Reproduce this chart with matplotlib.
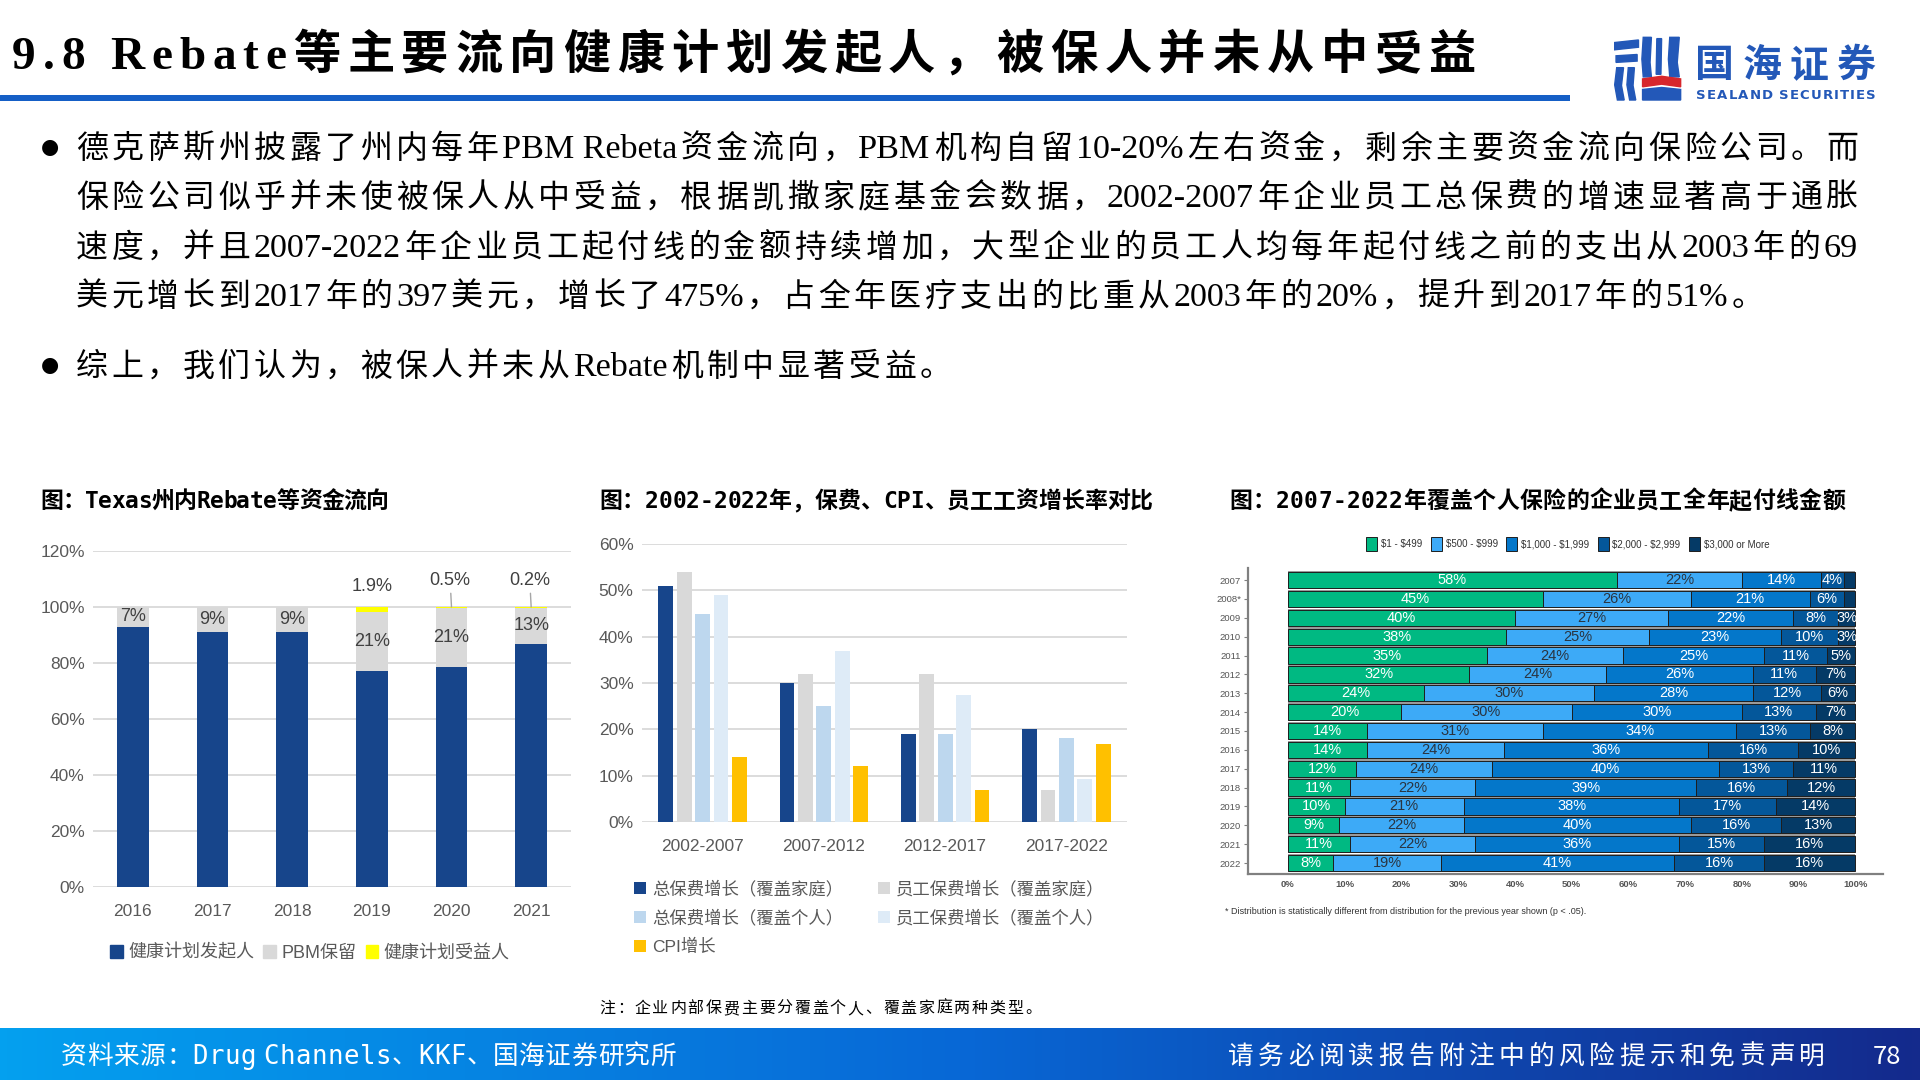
import re
import matplotlib
matplotlib.use('Agg')
import numpy as np
import matplotlib.pyplot as plt
from matplotlib.patches import Patch, Rectangle, Polygon
from matplotlib.colors import LinearSegmentedColormap

CJK = 'Noto Sans CJK SC'
SERIF_CJK = ['Liberation Serif', CJK]
SANS_CJK = ['Liberation Sans', CJK]
MONO_CJK = ['DejaVu Sans Mono', CJK]
NARROW = ['Liberation Sans Narrow', 'Liberation Sans']

# ---- chart 1: Texas rebate flow
years1 = ['2016', '2017', '2018', '2019', '2020', '2021']
sponsor = [93, 91, 91, 77.1, 78.5, 86.8]
pbm_keep = [7, 9, 9, 21, 21, 13]
beneficiary = [0, 0, 0, 1.9, 0.5, 0.2]
names1 = ['健康计划发起人', 'PBM保留', '健康计划受益人']

# ---- chart 2: premium / CPI growth
periods = ['2002-2007', '2007-2012', '2012-2017', '2017-2022']
prem_family = [51, 30, 19, 20]
worker_family = [54, 32, 32, 7]
prem_single = [45, 25, 19, 18.2]
worker_single = [49, 37, 27.4, 9.3]
cpi = [14, 12, 7, 16.9]
names2 = ['总保费增长（覆盖家庭）', '员工保费增长（覆盖家庭）', '总保费增长（覆盖个人）',
          '员工保费增长（覆盖个人）', 'CPI增长']

# ---- chart 3: deductible distribution
years3 = ['2007', '2008*', '2009', '2010', '2011', '2012', '2013', '2014', '2015',
          '2016', '2017', '2018', '2019', '2020', '2021', '2022']
d_1_499 = [58, 45, 40, 38, 35, 32, 24, 20, 14, 14, 12, 11, 10, 9, 11, 8]
d_500_999 = [22, 26, 27, 25, 24, 24, 30, 30, 31, 24, 24, 22, 21, 22, 22, 19]
d_1000_1999 = [14, 21, 22, 23, 25, 26, 28, 30, 34, 36, 40, 39, 38, 40, 36, 41]
d_2000_2999 = [4, 6, 8, 10, 11, 11, 12, 13, 13, 16, 13, 16, 17, 16, 15, 16]
d_3000_up = [2, 2, 3, 3, 5, 7, 6, 7, 8, 10, 11, 12, 14, 13, 16, 16]
names3 = [r'\$1 - \$499', r'\$500 - \$999', r'\$1,000 - \$1,999', r'\$2,000 - \$2,999', r'\$3,000 or More']

title = '9.8 Rebate等主要流向健康计划发起人，被保人并未从中受益'
para1 = ['德克萨斯州披露了州内每年PBM Rebeta资金流向，PBM机构自留10-20%左右资金，剩余主要资金流向保险公司。而',
         '保险公司似乎并未使被保人从中受益，根据凯撒家庭基金会数据，2002-2007年企业员工总保费的增速显著高于通胀',
         '速度，并且2007-2022年企业员工起付线的金额持续增加，大型企业的员工人均每年起付线之前的支出从2003年的69',
         '美元增长到2017年的397美元，增长了475%，占全年医疗支出的比重从2003年的20%，提升到2017年的51%。']
para2 = '综上，我们认为，被保人并未从Rebate机制中显著受益。'

W, H = 1920, 1080
fig = plt.figure(figsize=(19.2, 10.8), dpi=100)
fig.patch.set_facecolor('white')
renderer = fig.canvas.get_renderer()

PUNCT = '，。、：（）'


def px_axes(x0, y0, x1, y1, **kw):
    return fig.add_axes([x0 / W, 1 - y1 / H, (x1 - x0) / W, (y1 - y0) / H], **kw)


def draw_line(x, y, s, fs, family, target=None, gap=0.0, color='black', weight='normal',
              words=False, ascii_scale=1.0):
    """place text piece by piece, optionally justified so it ends at target (px)"""
    em = fs * 100 / 72
    probe = fig.text(0, 0, '中', fontsize=fs, family=family, weight=weight)
    cjk_w = probe.get_window_extent(renderer).width
    probe.remove()
    toks = re.findall(r'[\x21-\x7e](?:[\x20-\x7e]*[\x21-\x7e])?|.', s) if words else list(s)
    ws, offs, sizes = [], [], []
    for tk in toks:
        size = fs * ascii_scale if tk.isascii() else fs
        sizes.append(size)
        if tk == ' ':
            ws.append(em * 0.25); offs.append(0); continue
        t = fig.text(0, 0, tk, fontsize=size, family=family, weight=weight)
        w = t.get_window_extent(renderer).width
        t.remove()
        if tk in PUNCT:
            offs.append(cjk_w - w if tk == '（' else 0)
            ws.append(cjk_w)
        else:
            offs.append(0); ws.append(w)
    if target is not None and len(toks) > 1:
        gap = (target - x - sum(ws)) / (len(toks) - 1)
    cx = x
    for tk, w, o, size in zip(toks, ws, offs, sizes):
        if tk != ' ':
            fig.text((cx + o) / W, 1 - y / H, tk, fontsize=size, family=family,
                     weight=weight, color=color, ha='left', va='baseline')
        cx += w + gap
    return gap


# ---------------- header
draw_line(12, 69, title, 34, SERIF_CJK, target=1476, weight='bold')
hdr = px_axes(0, 95, 1570, 101)
hdr.add_patch(Rectangle((0, 0), 1, 1, color='#155FC6'))
hdr.set_xlim(0, 1); hdr.set_ylim(0, 1); hdr.axis('off')

# logo
lg = px_axes(1614, 36, 1682, 102)
lg.set_xlim(0, 10); lg.set_ylim(0, 10); lg.axis('off')
blue = '#2358B8'
lg.add_patch(Polygon([(0, 9.0), (3.6, 9.4), (3.6, 8.3), (0, 7.9)], color=blue))
lg.add_patch(Polygon([(0.3, 7.0), (3.4, 7.2), (3.4, 6.2), (0.3, 6.0)], color=blue))
lg.add_patch(Polygon([(0.4, 5.2), (1.4, 5.2), (1.1, 2.5), (1.5, 0.3), (0.5, 0.3), (0.1, 2.6)], color=blue))
lg.add_patch(Polygon([(2.1, 5.2), (3.0, 5.2), (2.8, 2.5), (3.2, 0.3), (2.3, 0.3), (1.9, 2.6)], color=blue))
lg.add_patch(Polygon([(4.3, 9.8), (5.5, 9.8), (5.3, 6.0), (5.5, 3.8), (4.3, 3.8), (4.1, 6.5)], color=blue))
lg.add_patch(Polygon([(6.3, 9.6), (7.0, 9.6), (6.9, 4.2), (6.2, 4.2)], color=blue))
lg.add_patch(Polygon([(8.2, 9.8), (9.6, 9.8), (9.3, 6.0), (9.6, 3.8), (8.2, 3.8), (8.0, 6.5)], color=blue))
lg.add_patch(Polygon([(4.2, 3.5), (7.0, 3.9), (9.8, 3.5), (9.8, 2.3), (7.0, 2.7), (4.2, 2.3)], color='#D7262B'))
lg.add_patch(Polygon([(4.2, 1.9), (7.0, 2.2), (9.8, 1.9), (9.8, 0.3), (4.2, 0.3)], color=blue))
draw_line(1695, 77, '国海证券', 28, [CJK], target=1876, color=blue, weight='bold')
draw_line(1696, 99, 'SEALAND SECURITIES', 9.5, ['DejaVu Sans'], target=1876, color=blue, weight='bold')

# ---------------- bullet text
bullet_y = [158, 207, 257, 306]
gaps = []
for i, line in enumerate(para1):
    if i < 3:
        gaps.append(draw_line(76, bullet_y[i], line, 23, SERIF_CJK, target=1858,
                              words=True, ascii_scale=1.07))
    else:
        draw_line(76, bullet_y[i], line, 23, SERIF_CJK, gap=np.mean(gaps),
                  words=True, ascii_scale=1.07)
draw_line(76, 376, para2, 23, SERIF_CJK, gap=np.mean(gaps), words=True, ascii_scale=1.07)
for by in (bullet_y[0], 376):
    fig.text(41 / W, 1 - (by - 11) / H, '●', fontsize=15, family='DejaVu Sans',
             ha='left', va='center')

# ---------------- chart titles
draw_line(40, 508, '图：Texas州内Rebate等资金流向', 16.5, MONO_CJK, target=389, weight='bold')
draw_line(599, 508, '图：2002-2022年，保费、CPI、员工工资增长率对比', 16.5, MONO_CJK, target=1153, weight='bold')
draw_line(1229, 508, '图：2007-2022年覆盖个人保险的企业员工全年起付线金额', 16.5, MONO_CJK, target=1845, weight='bold')

GRID = '#D9D9D9'
TICK = '#595959'


def style_excel(ax, ymax, step):
    ax.set_ylim(0, ymax)
    ax.set_yticks(np.arange(0, ymax + 1, step))
    ax.set_yticklabels([f'{v:.0f}%' for v in np.arange(0, ymax + 1, step)])
    ax.yaxis.grid(True, color=GRID, lw=1.3)
    ax.set_axisbelow(True)
    for sp in ax.spines.values():
        sp.set_visible(False)
    ax.tick_params(length=0, labelsize=12.5, colors=TICK)
    ax.tick_params(axis='y', pad=6)
    ax.tick_params(axis='x', pad=12)
    for lab in ax.get_xticklabels() + ax.get_yticklabels():
        lab.set_family(SANS_CJK)


# ---------------- chart 1
ax1 = px_axes(93, 551, 571, 887)
x1 = np.arange(len(years1))
c_navy, c_gray, c_yel = '#17458B', '#D9D9D9', '#FFFF00'
ax1.bar(x1, sponsor, 0.4, color=c_navy)
ax1.bar(x1, pbm_keep, 0.4, bottom=sponsor, color=c_gray)
bot = np.array(sponsor) + np.array(pbm_keep)
ax1.bar(x1, beneficiary, 0.4, bottom=bot, color=c_yel)
ax1.set_xlim(-0.5, len(years1) - 0.5)
ax1.set_xticks(x1, years1)
style_excel(ax1, 120, 20)
for i, v in enumerate(pbm_keep):
    ax1.text(i, sponsor[i] + v / 2, f'{v:.0f}%', ha='center', va='center',
             fontsize=13, color='#404040', family=SANS_CJK)
for i, v in enumerate(beneficiary):
    if v <= 0:
        continue
    top = bot[i] + v
    if v >= 1:
        ax1.annotate(f'{v:.1f}%', (i, top), xytext=(0, 15), textcoords='offset points',
                     ha='center', va='center', fontsize=13, color='#404040', family=SANS_CJK)
    else:
        ax1.annotate(f'{v:.1f}%', (i, top), xytext=(-1, 19), textcoords='offset points',
                     ha='center', va='center', fontsize=13, color='#404040', family=SANS_CJK,
                     arrowprops=dict(arrowstyle='-', color='#A6A6A6', lw=1, shrinkA=1, shrinkB=0))
h1 = [Patch(color=c) for c in (c_navy, c_gray, c_yel)]
ax1.legend(h1, names1, loc='center', bbox_to_anchor=(310 / W, 1 - 953 / H),
           bbox_transform=fig.transFigure, ncol=3, frameon=False,
           prop=dict(family=SANS_CJK, size=13), labelcolor=TICK,
           handlelength=0.7, handleheight=0.7, handletextpad=0.3, columnspacing=0.5)

# ---------------- chart 2
ax2 = px_axes(642, 544, 1127, 822)
x2 = np.arange(len(periods))
cols2 = ['#17458B', '#D9D9D9', '#BDD7EE', '#DEEBF7', '#FFC000']
series2 = [prem_family, worker_family, prem_single, worker_single, cpi]
for k, (vals, c) in enumerate(zip(series2, cols2)):
    ax2.bar(x2 + (k - 2) * 0.152, vals, 0.122, color=c, label=names2[k])
ax2.set_xlim(-0.5, len(periods) - 0.5)
ax2.set_xticks(x2, periods)
style_excel(ax2, 60, 10)
hh, ll = ax2.get_legend_handles_labels()
order = [0, 2, 4, 1, 3]
ax2.legend([hh[i] for i in order], [ll[i] for i in order], loc='upper left',
           bbox_to_anchor=(634 / W, 1 - 880 / H), bbox_transform=fig.transFigure,
           ncol=2, frameon=False, prop=dict(family=SANS_CJK, size=12.5), labelcolor=TICK,
           handlelength=0.7, handleheight=0.7, handletextpad=0.35, columnspacing=2.0,
           labelspacing=0.72, borderpad=0, borderaxespad=0)
draw_line(599, 1013, '注：企业内部保费主要分覆盖个人、覆盖家庭两种类型。', 11.5, [CJK], target=1041)

# ---------------- chart 3
ax3 = px_axes(1248, 568, 1883, 874)
cols3 = ['#00B982', '#3DAAF7', '#0477CA', '#04579A', '#053A66']
txt3 = ['white', '#2A3440', 'white', 'white', 'white']
series3 = np.array([d_1_499, d_500_999, d_1000_1999, d_2000_2999, d_3000_up], dtype=float)
share3 = series3 / series3.sum(axis=0) * 100
y3 = np.arange(len(years3))
ax3.barh(y3, np.full(len(years3), 100.0), 0.98, color='#9A9A9A', zorder=1)
left = np.zeros(len(years3))
for k in range(5):
    ax3.barh(y3, share3[k], 0.86, left=left, color=cols3[k], edgecolor='#1E1E1E', lw=0.7, zorder=2)
    for j in range(len(years3)):
        if series3[k, j] >= 3:
            ax3.text(left[j] + share3[k, j] / 2, y3[j], f'{series3[k, j]:.0f}%', ha='center',
                     va='center', fontsize=10.5, color=txt3[k], family=NARROW, zorder=3)
    left += share3[k]
ax3.set_xlim(-7.05, 104.9)
ax3.set_ylim(15.58, -0.64)
ax3.set_yticks(y3, years3)
ax3.set_xticks(np.arange(0, 101, 10), [f'{v}%' for v in range(0, 101, 10)])
for sp in ('top', 'right'):
    ax3.spines[sp].set_visible(False)
for sp in ('left', 'bottom'):
    ax3.spines[sp].set_color('#808080')
    ax3.spines[sp].set_linewidth(1.6)
ax3.tick_params(axis='y', length=3, color='#808080', labelsize=6.8, labelcolor='#555555', pad=2)
ax3.tick_params(axis='x', length=0, labelsize=6.8, labelcolor='#555555', pad=4)
for lab in ax3.get_xticklabels() + ax3.get_yticklabels():
    lab.set_family(NARROW)
for lab in ax3.get_xticklabels():
    lab.set_weight('bold')
h3 = [Patch(facecolor=c, edgecolor='#1E1E1E', lw=0.7) for c in cols3]
ax3.legend(h3, names3, loc='center', bbox_to_anchor=(1568 / W, 1 - 544 / H),
           bbox_transform=fig.transFigure, ncol=5, frameon=False,
           prop=dict(family=NARROW, size=7), labelcolor='#333333',
           handlelength=1.1, handleheight=1.7, handletextpad=0.4, columnspacing=0.9)
fig.text(1225 / W, 1 - 912 / H,
         '* Distribution is statistically different from distribution for the previous year shown (p < .05).',
         fontsize=6.5, family=NARROW, color='#333333', ha='left', va='center')

# ---------------- footer
ft = px_axes(0, 1028, 1920, 1080)
grad = np.linspace(0, 1, 512).reshape(1, -1)
cmap = LinearSegmentedColormap.from_list('ft', ['#04A0EF', '#0868D6', '#142A8C'])
ft.imshow(grad, aspect='auto', cmap=cmap, extent=(0, 1, 0, 1))
ft.axis('off')
draw_line(61, 1064, '资料来源：Drug Channels、KKF、国海证券研究所', 18.5, MONO_CJK, target=676, color='white')
draw_line(1228, 1064, '请务必阅读报告附注中的风险提示和免责声明', 18.5, [CJK], target=1825, color='white')
fig.text(1873 / W, 1 - 1064 / H, '78', fontsize=18.5, family=[CJK], color='white', ha='left', va='baseline')

fig.savefig('out.png', dpi=100)
